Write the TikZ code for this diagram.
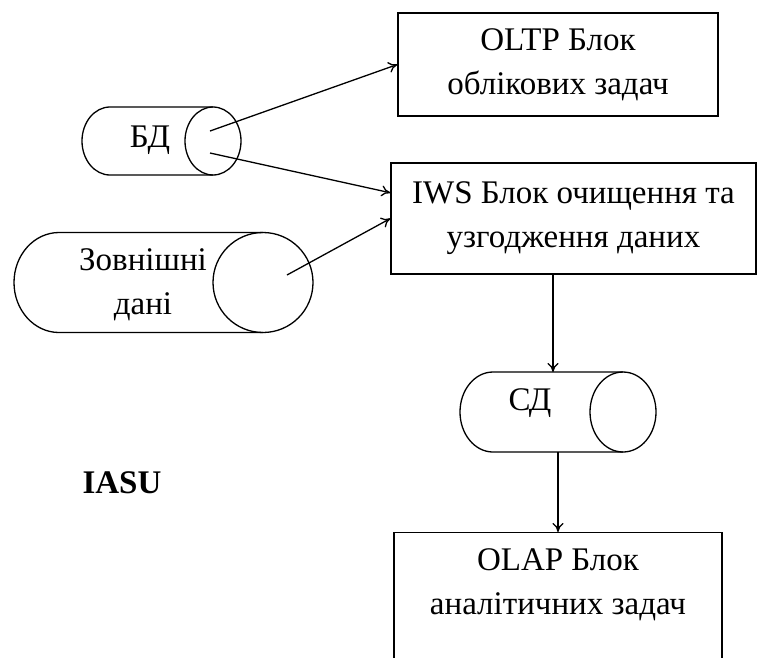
\documentclass[tikz,border=0pt]{standalone}
\usepackage{fontspec}
\setmainfont{Liberation Serif}
\newfontfamily\labelfont{Liberation Serif}
\usetikzlibrary{arrows.meta}
\begin{document}
\begin{tikzpicture}[x=1pt,y=-1pt,
  line width=1.3pt,
  every node/.style={font=\fontsize{33}{44}\labelfont, inner sep=0pt},
  box/.style={draw, align=center},
  conn/.style={-{To[length=9pt,width=11pt]}},
  lbl/.style={align=center}]
\useasboundingbox (0,0) rectangle (758,657);
\clip (0,0) rectangle (758,657);

% processing blocks
\node[box, minimum width=320, minimum height=103] (oltp) at (558,64.5)
  {OLTP Блок\\облікових задач};
\node[box, minimum width=365, minimum height=111] (iws) at (573.5,218.5)
  {IWS Блок очищення та\\узгодження даних};
\node[box, minimum width=328, minimum height=150, anchor=north] (olap) at (558,532) {};
\node[lbl] (olaptext) at (558,585) {OLAP Блок\\аналітичних задач};

% storage cylinders
\draw (213,107) -- (110,107) arc[start angle=270, end angle=90, x radius=28, y radius=34] -- (213,175);
\draw (213,141) ellipse[x radius=28, y radius=34];
\node[lbl] (bd) at (150,140) {БД};

\draw (263,232.5) -- (59,232.5) arc[start angle=270, end angle=90, x radius=45, y radius=50] -- (263,332.5);
\draw (263,282.5) ellipse[x radius=50, y radius=50];
\node[lbl] (ext) at (143,285) {Зовнішні\\дані};

\draw (623,372) -- (493,372) arc[start angle=270, end angle=90, x radius=33, y radius=40] -- (623,452);
\draw (623,412) ellipse[x radius=33, y radius=40];
\node[lbl] (sd) at (530,403) {СД};

% connector ends inside the cylinders
\coordinate (bdout1) at (210,131);
\coordinate (bdout2) at (210,153);
\coordinate (extout) at (287,275);
\coordinate (sdtop) at (553,372);
\coordinate (sdbot) at (558,452);

% title
\node[font=\fontsize{33}{40}\labelfont\bfseries] (iasu) at (122,483) {IASU};

% connectors
\draw[conn] (bdout1) -- (oltp.west);
\draw[conn] (bdout2) -- (iws.172);
\draw[conn] (extout) -- (iws.west);
\draw[conn] (iws.south -| sdtop) -- (sdtop);
\draw[conn] (sdbot) -- (olap.north -| sdbot);
\end{tikzpicture}
\end{document}
